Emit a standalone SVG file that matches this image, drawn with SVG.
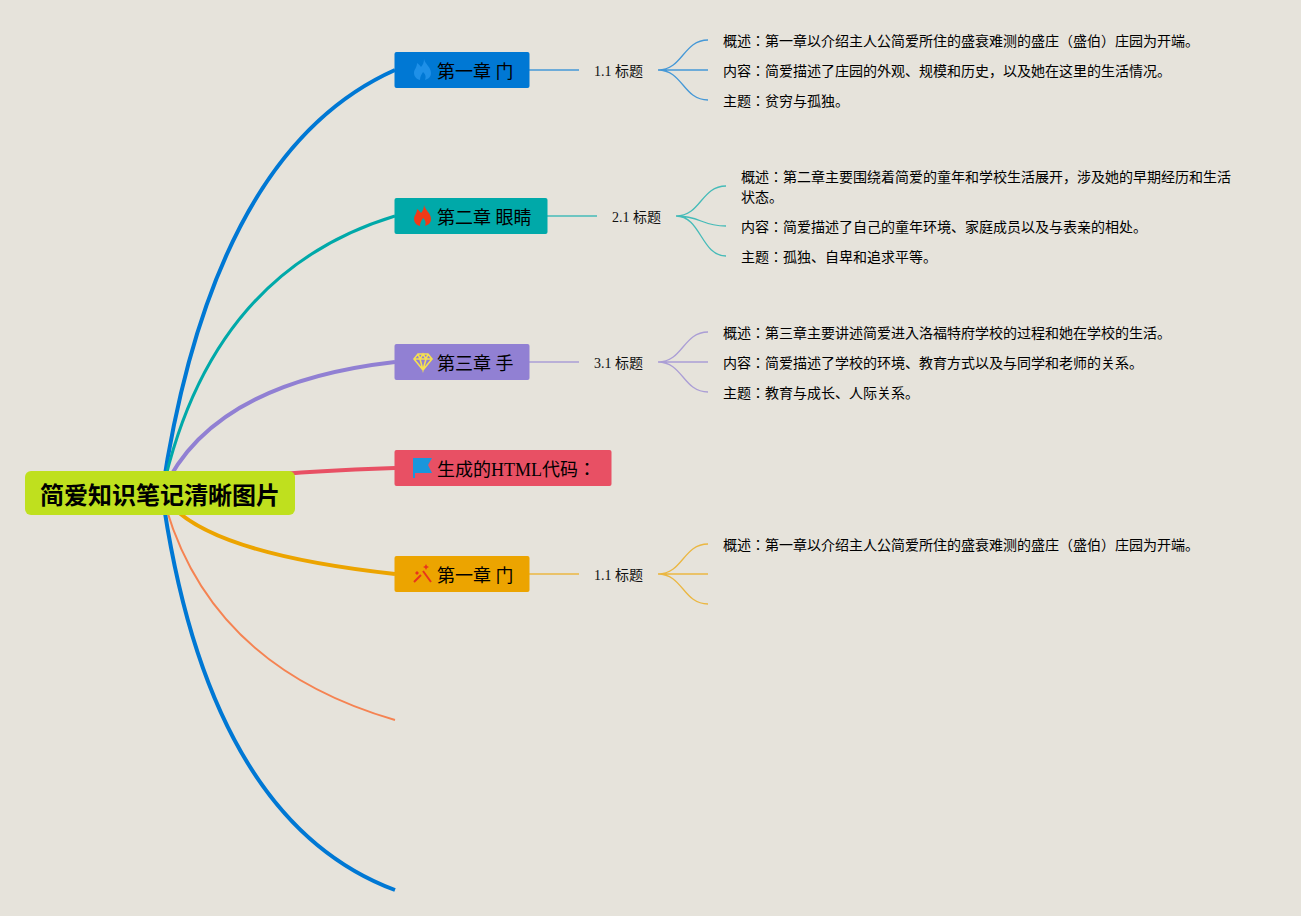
<svg xmlns="http://www.w3.org/2000/svg" width="1301" height="916" viewBox="0 0 1301 916">
<style>
text{font-family:"Liberation Serif","Noto Sans CJK JP",serif;fill:#000}
.t{font-size:18px}
.s{font-size:14px}
.l{font-size:14px;fill:#111}
.r{font-size:24px;font-weight:bold}
.th{fill:none;opacity:.7;stroke-width:1.3}
</style>
<defs>
<path id="flame" d="M424 205C425 210 431 213 431 219C431 223 428 225 425 226C426 223 426 221 423 218C422 220 420 222 420 226C416 225 414 222 414 219C414 215 417 214 417 209C419 210 420 212 421 213C423 211 424 208 424 205Z"/>
</defs>
<rect width="1301" height="916" fill="#e6e3db"/>
<g id="connectors" fill="none">
<g stroke-width="4">
<path d="M162 493Q213 151 395 70" stroke="#0078d4"/>
<path d="M162 493Q210 272 395 216" stroke="#00a9a9" stroke-width="3"/>
<path d="M162 493Q210 383 395 362" stroke="#9180d3"/>
<path d="M162 493Q230 473 395 468" stroke="#e85064"/>
<path d="M162 493Q195 552 395 574" stroke="#eca400"/>
<path d="M162 493Q205 665 395 720" stroke="#f58352" stroke-width="2"/>
<path d="M162 493Q208 820 395 890" stroke="#0078d4"/>
</g>
<g stroke="#0078d4" class="th"><path d="M529 70H579M658 70C683 70 683 40 708 40M658 70H708M658 70C683 70 683 100 708 100"/></g>
<g stroke="#00a9a9" class="th"><path d="M547 216H597M676 216C701 216 701 186 726 186M676 216C701 216 701 226 726 226M676 216C701 216 701 256 726 256"/></g>
<g stroke="#9180d3" class="th"><path d="M529 362H579M658 362C683 362 683 332 708 332M658 362H708M658 362C683 362 683 392 708 392"/></g>
<g stroke="#eca400" class="th"><path d="M529 574H579M658 574C683 574 683 544 708 544M658 574H708M658 574C683 574 683 604 708 604"/></g>
</g>
<g id="root"><rect x="25" y="471" width="270" height="44" rx="6" fill="#bfe01e"/><text class="r" x="40" y="504">简爱知识笔记清晰图片</text></g>
<g id="n1"><rect x="394.5" y="52" width="135" height="36" rx="2" fill="#0078d4"/>
<use href="#flame" y="-146" fill="#1e90e8"/>
<text class="t" x="437" y="78">第一章 门</text></g>
<g id="n2"><rect x="394.5" y="198" width="153" height="36" rx="2" fill="#00a9a9"/>
<use href="#flame" fill="#f03a17"/>
<text class="t" x="437" y="224">第二章 眼睛</text></g>
<g id="n3"><rect x="394.5" y="344" width="135" height="36" rx="2" fill="#9180d3"/>
<path d="M418 354H428L432 359L423 370L414 359ZM414 359H432M418 354L420 359L423 370L426 359L428 354M420 359L423 354L426 359" fill="none" stroke="#f5e050" stroke-width="1.6"/>
<text class="t" x="437" y="370">第三章 手</text></g>
<g id="n4"><rect x="394.5" y="450" width="217" height="36" rx="2" fill="#e85064"/>
<path d="M413 458H432L428 465L432 473H415V478H413Z" fill="#1a96dc"/>
<text class="t" x="437" y="476">生成的HTML代码：</text></g>
<g id="n5"><rect x="394.5" y="556" width="135" height="36" rx="2" fill="#eca400"/>
<path d="M414 582L421 575M423 571L431 582" stroke="#e8351c" stroke-width="2" fill="none"/><path d="M426 564l1 2 2 1-2 1-1 2-1-2-2-1 2-1zM417 571l1 1 1 1-1 1-1 1-1-1-1-1 1-1z" fill="#e8351c"/>
<text class="t" x="437" y="582">第一章 门</text></g>
<g id="t11"><text class="l" x="594" y="76">1.1 标题</text></g>
<g id="t21"><text class="l" x="612" y="222">2.1 标题</text></g>
<g id="t31"><text class="l" x="594" y="368">3.1 标题</text></g>
<g id="t51"><text class="l" x="594" y="580">1.1 标题</text></g>
<g id="l1"><text class="s" x="723" y="46">概述：第一章以介绍主人公简爱所住的盛衰难测的盛庄（盛伯）庄园为开端。</text><text class="s" x="723" y="76">内容：简爱描述了庄园的外观、规模和历史，以及她在这里的生活情况。</text><text class="s" x="723" y="106">主题：贫穷与孤独。</text></g>
<g id="l2"><text class="s" x="741" y="182">概述：第二章主要围绕着简爱的童年和学校生活展开，涉及她的早期经历和生活</text><text class="s" x="741" y="202">状态。</text><text class="s" x="741" y="232">内容：简爱描述了自己的童年环境、家庭成员以及与表亲的相处。</text><text class="s" x="741" y="262">主题：孤独、自卑和追求平等。</text></g>
<g id="l3"><text class="s" x="723" y="338">概述：第三章主要讲述简爱进入洛福特府学校的过程和她在学校的生活。</text><text class="s" x="723" y="368">内容：简爱描述了学校的环境、教育方式以及与同学和老师的关系。</text><text class="s" x="723" y="398">主题：教育与成长、人际关系。</text></g>
<g id="l5"><text class="s" x="723" y="550">概述：第一章以介绍主人公简爱所住的盛衰难测的盛庄（盛伯）庄园为开端。</text></g>
</svg>
